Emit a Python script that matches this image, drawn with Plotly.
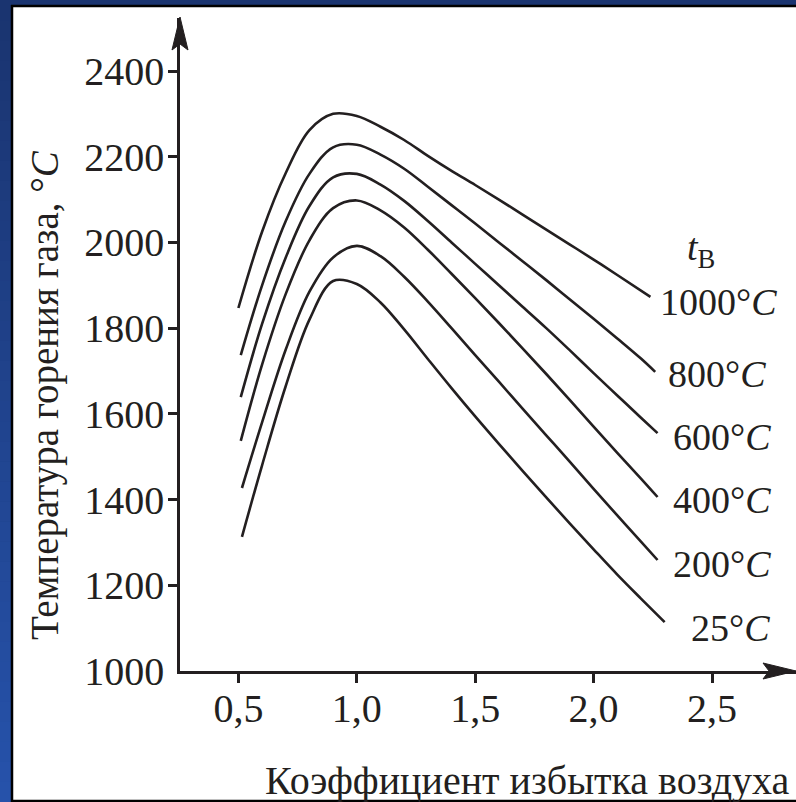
import plotly.graph_objects as go

# Air-preheat temperatures (curve labels)
air_temps = ["1000", "800", "600", "400", "200", "25"]

# Excess-air coefficient values and gas combustion temperature for each curve
x_1000 = [0.50, 0.60, 0.70, 0.80, 0.90, 1.00, 1.10, 1.20, 1.30, 1.40, 1.50, 1.60, 1.70,
          1.80, 1.90, 2.00, 2.10, 2.24]
y_1000 = [1847, 2025, 2162, 2262, 2300, 2295, 2270, 2239, 2202, 2167, 2134, 2100, 2065,
          2030, 1995, 1960, 1924, 1873]

x_800 = [0.51, 0.60, 0.70, 0.80, 0.90, 1.00, 1.10, 1.20, 1.30, 1.40, 1.50, 1.60, 1.70,
         1.80, 1.90, 2.00, 2.10, 2.20, 2.26]
y_800 = [1737, 1900, 2050, 2160, 2222, 2228, 2205, 2172, 2130, 2087, 2044, 2000, 1956,
         1912, 1867, 1822, 1776, 1729, 1698]

x_600 = [0.51, 0.60, 0.70, 0.80, 0.90, 1.00, 1.10, 1.20, 1.30, 1.40, 1.50, 1.60, 1.70,
         1.80, 1.90, 2.00, 2.10, 2.20, 2.27]
y_600 = [1639, 1810, 1965, 2085, 2152, 2160, 2135, 2097, 2050, 2000, 1950, 1900, 1850,
         1800, 1748, 1695, 1643, 1591, 1555]

x_400 = [0.51, 0.60, 0.70, 0.80, 0.90, 1.00, 1.10, 1.20, 1.30, 1.40, 1.50, 1.60, 1.70,
         1.80, 1.90, 2.00, 2.10, 2.20, 2.27]
y_400 = [1537, 1715, 1880, 2005, 2080, 2098, 2075, 2035, 1983, 1927, 1870, 1812, 1753,
         1693, 1632, 1570, 1509, 1449, 1406]

x_200 = [0.515, 0.60, 0.70, 0.80, 0.90, 1.00, 1.10, 1.20, 1.30, 1.40, 1.50, 1.60, 1.70,
         1.80, 1.90, 2.00, 2.10, 2.20, 2.27]
y_200 = [1427, 1580, 1750, 1885, 1965, 1992, 1968, 1920, 1862, 1800, 1737, 1675, 1612,
         1550, 1488, 1425, 1363, 1302, 1259]

x_25 = [0.515, 0.60, 0.70, 0.80, 0.90, 1.00, 1.10, 1.20, 1.30, 1.40, 1.50, 1.60, 1.70,
        1.80, 1.90, 2.00, 2.10, 2.20, 2.30]
y_25 = [1313, 1480, 1665, 1820, 1910, 1903, 1860, 1797, 1728, 1660, 1594, 1530, 1467,
        1405, 1344, 1284, 1225, 1169, 1114]

x_ticks = [0.5, 1.0, 1.5, 2.0, 2.5]
y_ticks = [1000, 1200, 1400, 1600, 1800, 2000, 2200, 2400]

series = [
    (x_1000, y_1000), (x_800, y_800), (x_600, y_600),
    (x_400, y_400), (x_200, y_200), (x_25, y_25),
]

W, H = 796, 802
ML, MR, MT, MB = 180, 0, 18, 131
PW, PH = W - ML - MR, H - MT - MB

INK = "#231f20"
FONT = "Liberation Serif"
FS = 40
FS_LABEL = 38


def px(x):
    """Pixel column -> paper x."""
    return (x - ML) / PW


def py(y):
    """Pixel row -> paper y."""
    return (H - MB - y) / PH


fig = go.Figure()

for xs, ys in series:
    fig.add_trace(go.Scatter(
        x=xs, y=ys, mode="lines",
        line=dict(color=INK, width=2.6, shape="spline", smoothing=1.0),
        showlegend=False, hoverinfo="skip",
    ))

# invisible traces bound to the overlay axes that carry the tick marks
fig.add_trace(go.Scatter(x=[1.0], y=[1500], yaxis="y2", mode="markers",
                         marker=dict(opacity=0), showlegend=False, hoverinfo="skip"))
fig.add_trace(go.Scatter(x=[1.0], y=[1500], xaxis="x2", mode="markers",
                         marker=dict(opacity=0), showlegend=False, hoverinfo="skip"))

shapes = []

# blue frame: top strip and left strip with a vertical gradient
top_col = (26, 52, 112)
bot_col = (38, 82, 170)
shapes.append(dict(type="rect", xref="paper", yref="paper",
                   x0=px(0), x1=px(W), y0=py(0), y1=py(6),
                   fillcolor="rgb(26,52,112)", line_width=0, layer="below"))
n_bands = 40
for i in range(n_bands):
    t = i / (n_bands - 1)
    c = tuple(round(a + (b - a) * t) for a, b in zip(top_col, bot_col))
    y0 = i * H / n_bands
    y1 = (i + 1) * H / n_bands + 0.5
    shapes.append(dict(type="rect", xref="paper", yref="paper",
                       x0=px(0), x1=px(12), y0=py(y0), y1=py(y1),
                       fillcolor="rgb(%d,%d,%d)" % c, line_width=0, layer="below"))

# white page with black edge lines
shapes.append(dict(type="rect", xref="paper", yref="paper",
                   x0=px(12), x1=px(W), y0=py(6), y1=py(801),
                   fillcolor="white", line_width=0, layer="below"))
shapes.append(dict(type="line", xref="paper", yref="paper",
                   x0=px(11), x1=px(W), y0=py(6), y1=py(6),
                   line=dict(color="black", width=2.5), layer="below"))
shapes.append(dict(type="line", xref="paper", yref="paper",
                   x0=px(12), x1=px(12), y0=py(5), y1=py(H),
                   line=dict(color="black", width=2.5), layer="below"))
shapes.append(dict(type="line", xref="paper", yref="paper",
                   x0=px(11), x1=px(W), y0=py(801), y1=py(801),
                   line=dict(color="black", width=2.5), layer="below"))


# arrowheads on both axes
def arrow_path(pts):
    return "M " + " L ".join("%.5f,%.5f" % (px(a), py(b)) for a, b in pts) + " Z"


shapes.append(dict(type="path", xref="paper", yref="paper",
                   path=arrow_path([(180, 17), (188, 50), (180, 44), (172, 50)]),
                   fillcolor=INK, line=dict(color=INK, width=1)))
shapes.append(dict(type="path", xref="paper", yref="paper",
                   path=arrow_path([(796, 671), (763, 679), (769, 671), (763, 663)]),
                   fillcolor=INK, line=dict(color=INK, width=1)))

annotations = []
label_pos = {
    "1000": (658, 302),
    "800": (666, 374),
    "600": (671, 437),
    "400": (671, 500),
    "200": (671, 564),
    "25": (689, 628),
}
for t in air_temps:
    lx, ly = label_pos[t]
    annotations.append(dict(
        xref="paper", yref="paper", x=px(lx), y=py(ly),
        xanchor="left", yanchor="middle", showarrow=False,
        text=t + "°<i>C</i>", font=dict(family=FONT, size=FS_LABEL, color=INK),
    ))
annotations.append(dict(
    xref="paper", yref="paper", x=px(685), y=py(250),
    xanchor="left", yanchor="middle", showarrow=False,
    text="<i>t</i><sub>В</sub>", font=dict(family=FONT, size=FS_LABEL, color=INK),
))
annotations.append(dict(
    xref="paper", yref="paper", x=px(45), y=py(395),
    xanchor="center", yanchor="middle", showarrow=False, textangle=-90,
    text="Температура горения газа, °<i>C</i>",
    font=dict(family=FONT, size=39, color=INK),
))
annotations.append(dict(
    xref="paper", yref="paper", x=px(527), y=py(780),
    xanchor="center", yanchor="middle", showarrow=False,
    text="Коэффициент избытка воздуха",
    font=dict(family=FONT, size=FS, color=INK),
))

x_range = [(ML - 120) / 236.8, (W - 120) / 236.8]
y_range = [1000, 1000 + (H - MB - MT) / 0.42857]

fig.update_layout(
    width=W, height=H,
    margin=dict(l=ML, r=MR, t=MT, b=MB, pad=0),
    paper_bgcolor="rgb(26,52,112)",
    plot_bgcolor="rgba(0,0,0,0)",
    separators=", ",
    font=dict(family=FONT, size=FS, color=INK),
    xaxis=dict(
        range=x_range, tickvals=x_ticks, tickformat=".1f",
        showgrid=False, zeroline=False,
        showline=True, linecolor=INK, linewidth=2.5,
        ticks="", ticklabelstandoff=0,
        tickfont=dict(family=FONT, size=FS, color=INK),
    ),
    xaxis2=dict(
        range=x_range, overlaying="x", side="bottom", anchor="y",
        tickvals=x_ticks, showticklabels=False,
        showgrid=False, zeroline=False, showline=False,
        ticks="outside", ticklen=11, tickwidth=2.5, tickcolor=INK,
    ),
    yaxis=dict(
        range=y_range, tickvals=y_ticks, tickformat="d",
        showgrid=False, zeroline=False,
        showline=True, linecolor=INK, linewidth=2.5,
        ticks="", ticklabelstandoff=5,
        tickfont=dict(family=FONT, size=FS, color=INK),
    ),
    yaxis2=dict(
        range=y_range, overlaying="y", side="left",
        tickvals=y_ticks[1:], showticklabels=False,
        showgrid=False, zeroline=False, showline=False,
        ticks="outside", ticklen=11, tickwidth=2.5, tickcolor=INK,
    ),
    shapes=shapes,
    annotations=annotations,
)

fig.write_html("out.html")
